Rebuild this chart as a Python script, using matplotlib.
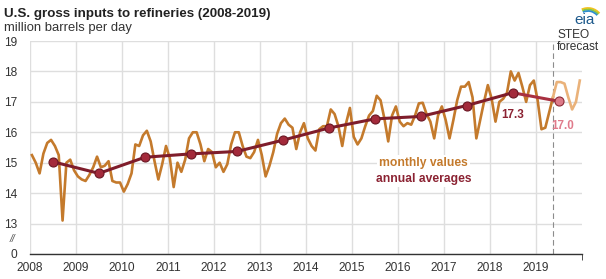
import numpy as np
import matplotlib.pyplot as plt
from matplotlib.patches import Arc

plt.rcParams['font.family'] = ['Liberation Sans', 'DejaVu Sans']

years = list(range(2008, 2020))

# monthly refinery gross inputs, million b/d (Jan..Dec each year)
monthly_values = [
    15.25, 15.00, 14.65, 15.30, 15.65, 15.75, 15.55, 15.25, 13.10, 15.00, 15.10, 14.75,  # 2008
    14.55, 14.45, 14.40, 14.60, 14.85, 15.20, 14.85, 14.90, 15.05, 14.40, 14.35, 14.35,  # 2009
    14.05, 14.30, 14.65, 15.60, 15.55, 15.90, 16.05, 15.70, 15.05, 14.45, 14.95, 15.55,  # 2010
    15.15, 14.20, 15.00, 14.70, 15.10, 15.80, 16.00, 16.00, 15.60, 15.05, 15.45, 15.35,  # 2011
    14.85, 15.00, 14.70, 14.95, 15.60, 16.00, 16.00, 15.55, 15.20, 15.15, 15.35, 15.75,  # 2012
    15.25, 14.55, 14.90, 15.35, 15.95, 16.30, 16.45, 16.25, 16.15, 15.45, 16.00, 16.30,  # 2013
    15.80, 15.55, 15.40, 16.10, 16.20, 16.20, 16.75, 16.60, 16.20, 15.55, 16.30, 16.80,  # 2014
    15.85, 15.60, 15.80, 16.20, 16.55, 16.70, 17.20, 17.05, 16.45, 15.70, 16.55, 16.85,  # 2015
    16.35, 16.20, 16.30, 16.25, 16.55, 16.95, 16.97, 16.60, 16.35, 15.80, 16.55, 16.85,  # 2016
    16.40, 15.80, 16.40, 17.05, 17.50, 17.50, 17.65, 17.15, 15.80, 16.40, 17.00, 17.55,  # 2017
    17.10, 16.35, 17.00, 17.10, 17.30, 18.00, 17.70, 17.95, 17.50, 17.00, 17.55, 17.70,  # 2018
    17.05, 16.10, 16.15, 16.65, 17.15, 17.65, 17.65, 17.60, 17.15, 16.75, 17.00, 17.70,  # 2019
]
last_actual = 12 * 11 + 4  # May 2019, forecast after this

annual_avg = [15.03, 14.65, 15.18, 15.29, 15.37, 15.74, 16.14, 16.44, 16.52, 16.88, 17.30, 17.02]

y_ticks = [12, 13, 14, 15, 16, 17, 18, 19]
y_labels = ['0', '13', '14', '15', '16', '17', '18', '19']

months_x = np.array([years[0] + (i + 0.5) / 12 for i in range(len(monthly_values))])
monthly = np.array(monthly_values)
annual_x = np.array(years) + 0.5

col_month = '#c47a2c'
col_fcst = '#eab27a'
col_annual = '#7f1d2b'
txt = '#333333'

fig = plt.figure(figsize=(6.06, 2.79), dpi=100)
ax = fig.add_axes([30 / 606, 25 / 279, 551.7 / 606, 213 / 279])

ax.set_xlim(2008, 2020)
ax.set_ylim(12, 19)
ax.set_xticks(years)
ax.set_xticklabels([str(y) for y in years])
ax.set_xticks([2008, 2020], minor=True)
ax.set_yticks(y_ticks)
ax.set_yticklabels(y_labels)
ax.set_axisbelow(True)
ax.grid(color='#dedede', lw=1)
for s in ['top', 'right', 'left']:
    ax.spines[s].set_visible(False)
ax.spines['bottom'].set_color('#333333')
ax.spines['bottom'].set_linewidth(1)
ax.tick_params(axis='both', which='major', length=0, labelsize=8.6, labelcolor=txt)
ax.tick_params(axis='x', which='major', pad=6)
ax.tick_params(axis='y', which='major', pad=9)
ax.tick_params(axis='x', which='minor', length=4, color='#333333', direction='out')

# axis break mark
ax.text(-0.031, 12.5, '//', transform=ax.get_yaxis_transform(), ha='center', va='center',
        fontsize=7.5, style='italic', color='#555555')

# monthly series
ax.plot(months_x[:last_actual + 1], monthly[:last_actual + 1], color=col_month, lw=1.9,
        solid_joinstyle='round', zorder=2)
ax.plot(months_x[last_actual:], monthly[last_actual:], color=col_fcst, lw=1.9,
        solid_joinstyle='round', zorder=2)

# annual averages
ax.plot(annual_x[-2:], annual_avg[-2:], color='#a83040', lw=2.2, zorder=3)
ax.plot(annual_x[:-1], annual_avg[:-1], color=col_annual, lw=2.2, marker='o', ms=6.5,
        mfc='#a32a3b', mec='#6a1723', mew=0.8, zorder=4)
ax.plot(annual_x[-1:], annual_avg[-1:], ls='none', marker='o', ms=6.5,
        mfc='#dc7a88', mec='#8c2a36', mew=0.8, zorder=4)

ax.annotate(f'{annual_avg[-2]:.1f}', (annual_x[-2], annual_avg[-2]), xytext=(0, -16),
            textcoords='offset points', ha='center', va='center', fontsize=8.4,
            fontweight='bold', color='#8b2232')
ax.annotate(f'{annual_avg[-1]:.1f}', (annual_x[-1], annual_avg[-1]), xytext=(3, -18),
            textcoords='offset points', ha='center', va='center', fontsize=8.4,
            fontweight='bold', color='#e07b8b')

# forecast divider
fx = months_x[last_actual]
ax.axvline(fx, color='#8c8c8c', lw=0.8, dashes=(5, 3), zorder=1)
ax.annotate('STEO\nforecast', (fx, 1.0), xycoords=ax.get_xaxis_transform(), xytext=(3, 0),
            textcoords='offset points', ha='left', va='center', fontsize=8.6,
            color=txt, linespacing=1.05)

# inline legend
box = dict(fc='white', ec='none', pad=1.5)
ax.text(2016.56, 15.0, 'monthly values', ha='center', va='center', fontsize=8.7,
        fontweight='bold', color=col_month, bbox=box, zorder=1)
ax.text(2016.56, 14.48, 'annual averages', ha='center', va='center', fontsize=8.7,
        fontweight='bold', color='#8b2232', bbox=box, zorder=1)

# titles
fig.text(4 / 606, 1 - 17 / 279, 'U.S. gross inputs to refineries (2008-2019)', ha='left',
         va='baseline', fontsize=9.6, fontweight='bold', color='#222222')
fig.text(4 / 606, 1 - 31 / 279, 'million barrels per day', ha='left', va='baseline',
         fontsize=9.4, color=txt)

# eia logo
lg = fig.add_axes([568 / 606, 1 - 28 / 279, 36 / 606, 27 / 279])
lg.set_xlim(0, 36)
lg.set_ylim(0, 27)
lg.axis('off')
lg.text(17, 8, 'eia', ha='center', va='center', fontsize=11, color='#1e5a8c')
for r, c in zip([15, 13.5, 12], ['#f2c21b', '#8cc63f', '#2f8fce']):
    lg.add_patch(Arc((20, 5), 2 * r, 2 * r, theta1=40, theta2=115, color=c, lw=1.3))

fig.savefig('out.png', dpi=100)
